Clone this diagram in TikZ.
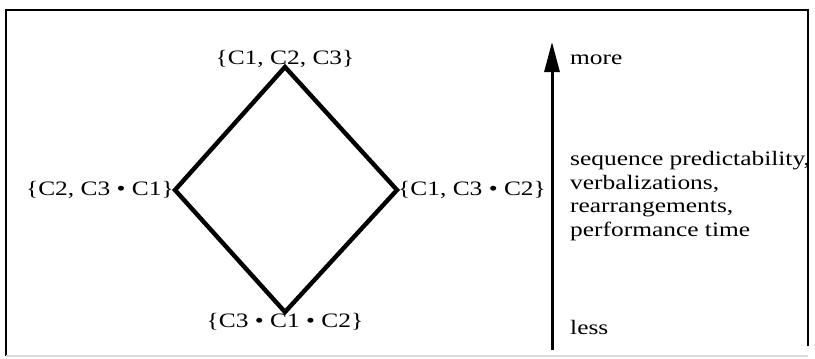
\documentclass[tikz,border=0pt]{standalone}
\usepackage{fontspec}
\setmainfont{Liberation Serif}
\newfontfamily\widefont[FakeStretch=1.24]{Liberation Serif}
\usepackage{tikz}
\usetikzlibrary{positioning,arrows.meta}
\tikzset{
  setlabel/.style={font=\widefont\fontsize{20.5}{23}\selectfont, inner sep=1pt},
  sidetext/.style={font=\widefont\fontsize{20.5}{23.5}\selectfont, align=left, inner sep=0pt},
  latticeline/.style={line width=4.4pt, line join=miter},
  scalearrow/.style={-{Triangle[length=30pt, width=15pt]}, line width=3pt},
  frameline/.style={line width=2.6pt}
}
\newcommand{\dotsep}{\ •\ }
\begin{document}
\begin{tikzpicture}[x=1pt, y=-1pt]
  \useasboundingbox (0,0) rectangle (815,359);
  % frame
  \draw[frameline] (6,356) -- (6,10) -- (808,10) -- (808,346);
  \draw[frameline, black!15] (6,356) -- (808,356);
  % lattice corners
  \coordinate (top) at (285,67);
  \coordinate (lft) at (175,190);
  \coordinate (rgt) at (397,190);
  \coordinate (bot) at (285,312);
  \draw[latticeline] (top) -- (rgt) -- (bot) -- (lft) -- cycle;
  \node[setlabel, anchor=base] (ltop) at (285,64) {\{C1, C2, C3\}};
  \node[setlabel, anchor=east] (llft) at (lft) {\{C2, C3\dotsep C1\}};
  \node[setlabel, anchor=west] (lrgt) at (rgt) {\{C1, C3\dotsep C2\}};
  \node[setlabel, anchor=north] (lbot) at (bot) {\{C3\dotsep C1\dotsep C2\}};
  % scale on the right
  \coordinate (lessend) at (552,350);
  \coordinate (moreend) at (552,42);
  \draw[scalearrow] (lessend) -- (moreend);
  \node[sidetext, anchor=base west] (more) at (570,64) {more};
  \node[sidetext, anchor=west] (crit) at (570,196) {sequence predictability,\\verbalizations,\\rearrangements,\\performance time};
  \node[sidetext, anchor=base west] (less) at (570,334) {less};
\end{tikzpicture}
\end{document}
